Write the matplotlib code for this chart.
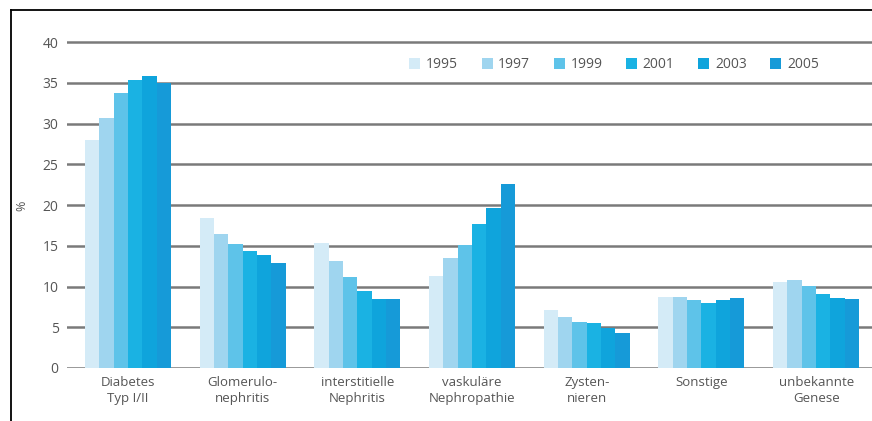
import numpy as np
import matplotlib
matplotlib.use("Agg")
import matplotlib.pyplot as plt
from matplotlib.lines import Line2D

plt.rcParams['font.family'] = ['Open Sans', 'DejaVu Sans']

# ====================== Daten ======================
categories = ["Diabetes\nTyp I/II", "Glomerulo-\nnephritis", "interstitielle\nNephritis",
              "vaskuläre\nNephropathie", "Zysten-\nnieren", "Sonstige", "unbekannte\nGenese"]
years = ["1995", "1997", "1999", "2001", "2003", "2005"]

v1995 = [28.0, 18.4, 15.4, 11.3, 7.1, 8.7, 10.6]
v1997 = [30.7, 16.5, 13.1, 13.5, 6.3, 8.7, 10.8]
v1999 = [33.8, 15.2, 11.2, 15.1, 5.7, 8.4, 10.1]
v2001 = [35.3, 14.4, 9.4, 17.7, 5.5, 8.0, 9.1]
v2003 = [35.8, 13.9, 8.5, 19.6, 4.9, 8.3, 8.6]
v2005 = [35.0, 12.9, 8.5, 22.6, 4.3, 8.6, 8.5]
series = [v1995, v1997, v1999, v2001, v2003, v2005]

colors = ["#d4ebf7", "#9fd5ef", "#5ec3e9", "#1ab2e3", "#0fa4dc", "#169ad8"]
textc = "#555555"

# ====================== Plot ======================
fig = plt.figure(figsize=(8.72, 4.21), dpi=100)
ax = fig.add_axes([0.0768, 0.1259, 0.9232, 0.7838])

x = np.arange(len(categories))
w = 0.125
for i, (vals, c) in enumerate(zip(series, colors)):
    ax.bar(x + (i - 2.5) * w, vals, width=w, color=c, label=years[i], zorder=3, linewidth=0)

ax.set_ylim(0, 40.5)
ax.set_xlim(-0.532, 6.487)
ax.set_yticks(range(0, 41, 5))
ax.set_yticklabels([str(t) for t in range(0, 41, 5)], color=textc, fontsize=10)
ax.yaxis.grid(True, color="#7a7a7a", linewidth=1.8, zorder=1)
ax.tick_params(axis="y", length=0, pad=6)
ax.set_xticks(x)
ax.set_xticklabels(categories, color=textc, fontsize=9.5, linespacing=1.25)
ax.tick_params(axis="x", length=0, pad=6)
for s in ax.spines.values():
    s.set_visible(False)

fig.text(0.025, 0.51, "%", rotation=90, color=textc, fontsize=9, va="center", ha="center")

fig.legend(loc="center right", bbox_to_anchor=(0.939, 0.846), ncol=6, frameon=False,
           fontsize=10, handlelength=0.8, handleheight=0.8, handletextpad=0.4,
           columnspacing=1.7, labelcolor=textc, borderaxespad=0, borderpad=0)

# Rahmen oben und links
fig.add_artist(Line2D([11 / 872, 1.0], [1 - 10 / 421, 1 - 10 / 421], color="black", linewidth=1.3))
fig.add_artist(Line2D([11 / 872, 11 / 872], [0, 1 - 10 / 421], color="black", linewidth=1.3))

fig.savefig("out.png", dpi=100)
